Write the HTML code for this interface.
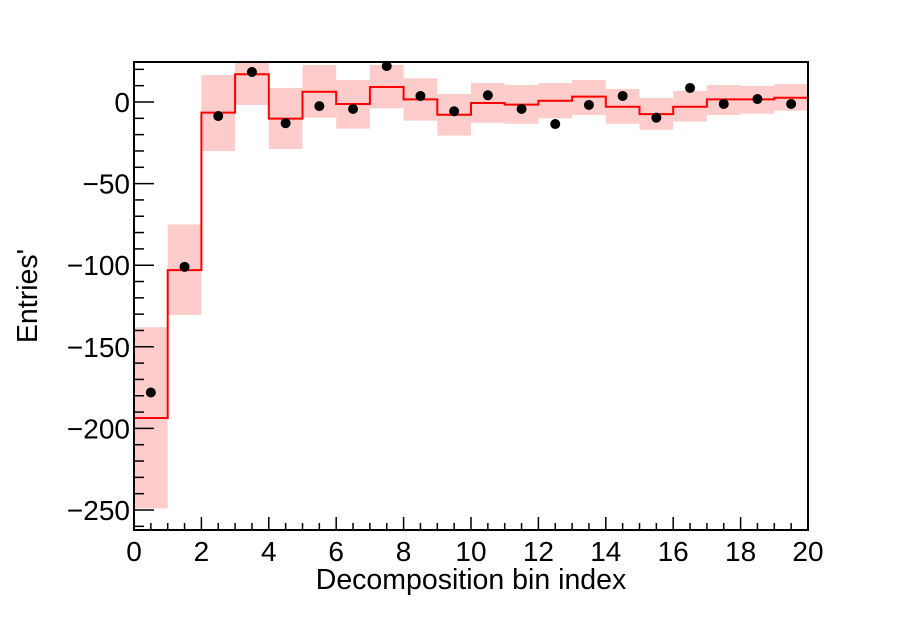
<!DOCTYPE html>
<html><head><meta charset="utf-8"><style>
body{margin:0;background:#fff;}
svg text{font-family:"Liberation Sans",sans-serif;}
</style></head><body>
<svg id="chart" width="898" height="625" xmlns="http://www.w3.org/2000/svg">
<rect width="898" height="625" fill="#fff"/>
<g id="bands"></g>
<g id="line"></g>
<g id="points"></g>
<g id="axes"></g>
</svg>
<script>
const binEdges = [0,1,2,3,4,5,6,7,8,9,10,11,12,13,14,15,16,17,18,19,20];
const histValues = [-193.6,-103,-6.5,17,-10.2,6.3,-1.2,9.2,1.6,-7.8,-0.6,-1.6,0.8,3.3,-2.9,-7.4,-2.9,1.6,1.6,2.6];
const bandHigh = [-138,-75,16.5,24.7,8.6,22.7,13.5,22.7,14.5,4.9,11.6,10.4,11.6,13.5,8,2.5,6.7,10.4,9.8,11];
const bandLow = [-249,-130.5,-30,-1.8,-28.8,-9.6,-16.3,-3.9,-11.4,-20.6,-12.7,-13.3,-10,-8,-13.3,-17,-12,-8,-7.1,-5.3];
const pointValues = [-178,-101,-8.6,18.4,-13,-2.5,-4.3,22,3.7,-5.7,4.1,-4.3,-13.5,-1.8,3.7,-9.6,8.6,-1.2,1.8,-1.2];
const xTicks = [0,2,4,6,8,10,12,14,16,18,20];
const yTicks = [-250,-200,-150,-100,-50,0];

const L=134,R=808,T=62,B=530;
const X=v=>L+(v-0)/(20-0)*(R-L);
const Y=v=>102-v*1.632;
const NS='http://www.w3.org/2000/svg';
function mk(tag,parent,attrs){const e=document.createElementNS(NS,tag);for(const k in attrs)e.setAttribute(k,attrs[k]);parent.appendChild(e);return e;}
const clipY=v=>Math.max(T,Math.min(B,v));

const gb=document.getElementById('bands');
histValues.forEach((v,i)=>{
  const y1=clipY(Y(bandHigh[i])),y2=clipY(Y(bandLow[i]));
  const r=mk('rect',gb,{x:X(binEdges[i]),y:y1,width:X(binEdges[i+1])-X(binEdges[i]),height:y2-y1,fill:'#ffcccc'});
  
  
});
let d='';
histValues.forEach((v,i)=>{
  const y=Y(v);
  d+=(i===0?'M'+X(binEdges[0])+','+y:'V'+y)+'H'+X(binEdges[i+1]);
});
const gl=document.getElementById('line');
const p=mk('path',gl,{d:d,fill:'none',stroke:'#ff0000','stroke-width':2});


const gp=document.getElementById('points');
pointValues.forEach((v,i)=>{
  const c=mk('circle',gp,{cx:X((binEdges[i]+binEdges[i+1])/2),cy:Y(v),r:5,fill:'#000'});
  
  
});
const ga=document.getElementById('axes');
const fr=mk('rect',ga,{x:L,y:T,width:R-L,height:B-T,fill:'none',stroke:'#000','stroke-width':2});


for(let v=0;v<=20.001;v+=0.5){
  const major=Math.abs(v%2)<1e-6;
  mk('line',ga,{x1:X(v),x2:X(v),y1:B,y2:B-(major?13:7),stroke:'#000','stroke-width':1.5});
}
for(let v=-260;v<=20;v+=10){
  const major=v%50===0;
  mk('line',ga,{x1:L,x2:L+(major?20:10),y1:Y(v),y2:Y(v),stroke:'#000','stroke-width':1.5});
}
xTicks.forEach(v=>{
  const t=mk('text',ga,{x:X(v),y:561,'font-size':28,'text-anchor':'middle'});
  t.textContent=v;
  
  
});
yTicks.forEach(v=>{
  const t=mk('text',ga,{x:130,y:Y(v)+10,'font-size':28,'text-anchor':'end'});
  t.textContent=v<0?'\u2212'+(-v):v;
  
  
});
const xt=mk('text',ga,{x:471,y:589,'font-size':28.5,'text-anchor':'middle'});
xt.textContent='Decomposition bin index';


const yt=mk('text',ga,{x:0,y:0,'font-size':28.5,'text-anchor':'middle',transform:'translate(37,296) rotate(-90)'});
yt.textContent="Entries'";


</script>
</body></html>
